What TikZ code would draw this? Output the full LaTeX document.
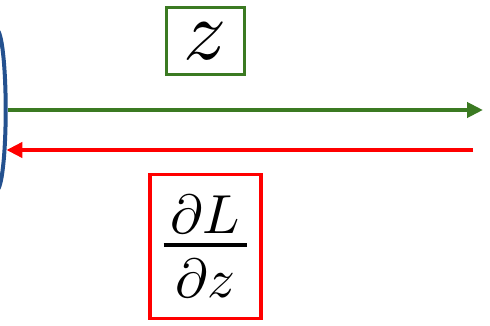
\documentclass[tikz,border=0pt]{standalone}
\usepackage{amsmath,graphicx}
\usetikzlibrary{arrows.meta,shapes.geometric}
\definecolor{Fc}{HTML}{3B7A22}
\definecolor{Bc}{HTML}{FF0000}
\definecolor{Nc}{HTML}{24518F}
\tikzset{
  unit/.style={ellipse, draw=Nc, line width=4pt, inner sep=0pt,
    minimum width=18pt, minimum height=160pt},
  fwdbox/.style={rectangle, draw=Fc, line width=3.5pt, inner sep=0pt,
    minimum width=78pt, minimum height=67pt},
  bwdbox/.style={rectangle, draw=Bc, line width=3.5pt, inner sep=0pt,
    minimum width=111pt, minimum height=144pt},
  fwd/.style={-{Triangle[length=16pt, width=15pt]}, Fc, line width=4pt},
  bwd/.style={-{Triangle[length=16pt, width=15pt]}, Bc, line width=4pt},
}
\newcommand{\gradfrac}{\genfrac{}{}{0.73pt}{0}%
  {\hspace{1.27pt}\smash[b]{\lower2.17pt\hbox{$\partial L$}}\hspace{1.27pt}}%
  {\partial z}}
\begin{document}
\begin{tikzpicture}[x=1pt, y=-1pt]
  \clip (0,0) rectangle (490,326);
  \node[unit] (layer) at (-3.3,110) {};
  \node[fwdbox] (zval) at (205.5,41) {\scalebox{8.5}{$z$}};
  \node[bwdbox] (grad) at (205.5,246.5) {\scalebox{5.5}{$\gradfrac$}};
  \coordinate (zout) at (483,110);
  \coordinate (gin) at (473,150);
  \draw[fwd] (layer.east) -- (zout);
  \draw[bwd] (gin) -- (layer.-76.5 |- gin);
\end{tikzpicture}
\end{document}
